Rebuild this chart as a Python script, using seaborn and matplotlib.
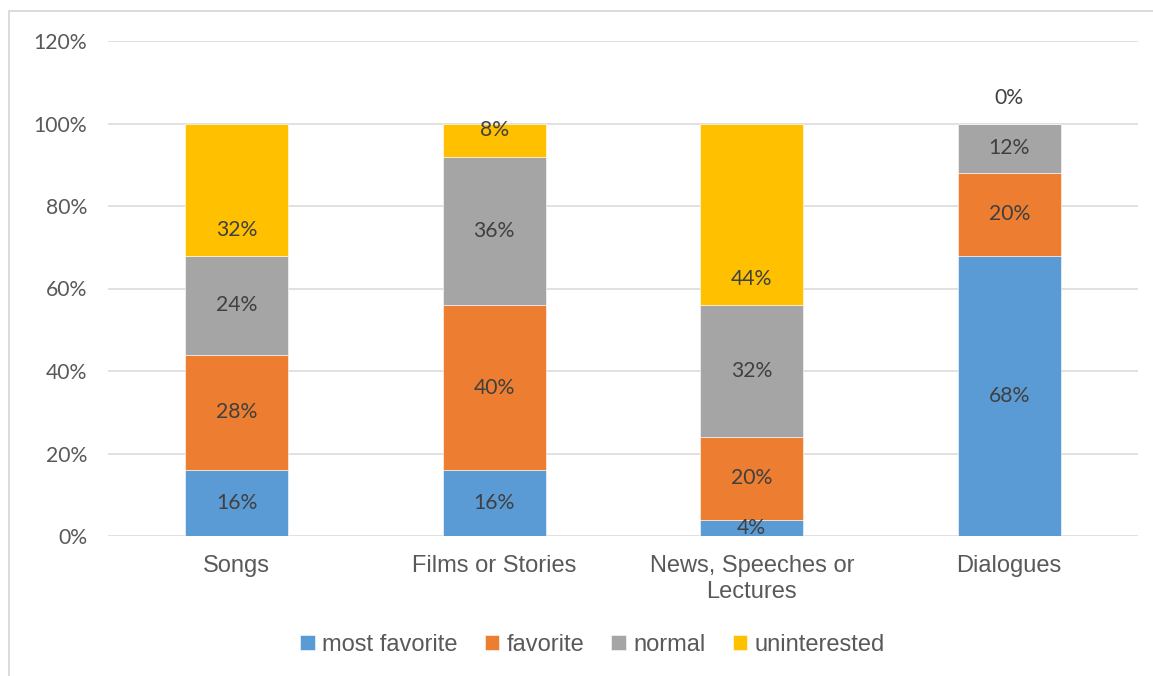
import matplotlib
matplotlib.use("Agg")
import matplotlib.pyplot as plt
from matplotlib.patches import Rectangle
import numpy as np
import seaborn as sns

# Share of listening material preference per category (percent)
categories = ["Songs", "Films or Stories", "News, Speeches or\nLectures", "Dialogues"]
series_names = ["most favorite", "favorite", "normal", "uninterested"]
most_favorite = [16, 16, 4, 68]
favorite = [28, 40, 20, 20]
normal = [24, 36, 32, 12]
uninterested = [32, 8, 44, 0]
y_ticks = [0, 20, 40, 60, 80, 100, 120]
y_tick_labels = [f"{t}%" for t in y_ticks]

colors = ["#5B9BD5", "#ED7D31", "#A5A5A5", "#FFC000"]
grid_color = "#D9D9D9"
tick_color = "#595959"
label_color = "#404040"

sns.set_theme(style="white")
plt.rcParams["font.family"] = ["Liberation Sans", "DejaVu Sans"]

W, H = 1153, 676
fig = plt.figure(figsize=(W / 100, H / 100), dpi=100)
ax = fig.add_axes([108 / W, 1 - 536 / H, (1138 - 108) / W, (536 - 41) / H])

series = [most_favorite, favorite, normal, uninterested]
bottom = np.zeros(len(categories))
for k, (name, vals, col) in enumerate(zip(series_names, series, colors)):
    vals = np.array(vals, dtype=float)
    sns.barplot(x=categories, y=vals, bottom=bottom.copy(), color=col,
                saturation=1, width=0.4, ax=ax, label=name,
                edgecolor="white", linewidth=0.4)
    for i, v in enumerate(vals):
        if k < 3:
            ax.annotate(f"{v:.0f}%", (i, bottom[i] + v / 2), ha="center",
                        va="center", fontsize=15.2, family="Lato",
                        color=label_color)
        else:
            # last series labelled just above its base
            ax.annotate(f"{v:.0f}%", (i, bottom[i]), xytext=(0, 26),
                        textcoords="offset pixels", ha="center", va="center",
                        fontsize=15.2, family="Lato", color=label_color)
    bottom += vals

ax.set_xlim(-0.5, len(categories) - 0.5)
ax.set_ylim(0, 120)
ax.set_yticks(y_ticks)
ax.set_yticklabels(y_tick_labels, family="Lato", fontsize=15.2, color=tick_color)
ax.tick_params(axis="y", length=0, pad=15)
ax.tick_params(axis="x", length=0, pad=14, labelsize=17, labelcolor=tick_color)
for s in ax.spines.values():
    s.set_visible(False)
ax.set_axisbelow(True)
ax.yaxis.grid(True, color=grid_color, linewidth=1.1)
ax.xaxis.grid(False)
ax.set_xlabel("")
ax.set_ylabel("")

handles, labels = ax.get_legend_handles_labels()
if ax.get_legend() is not None:
    ax.get_legend().remove()
fig.legend(handles, labels, loc="center", bbox_to_anchor=(592.5 / W, 1 - 645 / H),
           ncol=4, frameon=False, fontsize=17, handlelength=0.62, handleheight=0.62,
           handletextpad=0.3, columnspacing=1.15, labelcolor=tick_color,
           borderpad=0)

# chart area outline
fig.patches.append(Rectangle((8.5 / W, -0.05), 1.1, 1 - 11 / H + 0.05,
                             transform=fig.transFigure, fill=False,
                             edgecolor=grid_color, linewidth=1.3))

fig.savefig("out.png", dpi=100)
